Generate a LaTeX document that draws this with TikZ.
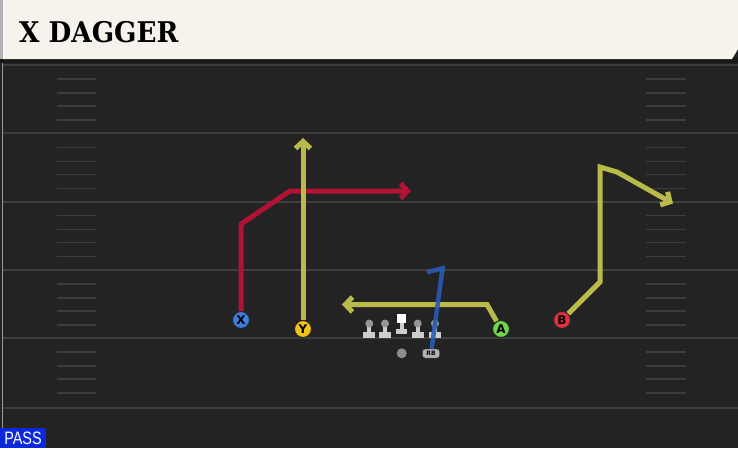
\documentclass[tikz,border=0pt]{standalone}
\usepackage{fontspec}
\setmainfont{DejaVu Sans}
\newfontfamily\titlefont{DejaVu Serif}
\newfontfamily\tagfont{Liberation Sans}
\usetikzlibrary{arrows.meta}

\definecolor{fieldbg}{RGB}{35,35,35}
\definecolor{headerbg}{RGB}{245,243,236}
\definecolor{yardline}{RGB}{62,62,62}
\definecolor{hashline}{RGB}{60,60,60}
\definecolor{redroute}{RGB}{178,18,52}
\definecolor{yellowroute}{RGB}{186,186,74}
\definecolor{blueroute}{RGB}{40,90,180}
\definecolor{xblue}{RGB}{59,127,224}
\definecolor{yyellow}{RGB}{242,194,27}
\definecolor{agreen}{RGB}{111,214,74}
\definecolor{bred}{RGB}{224,48,60}
\definecolor{olbody}{RGB}{205,205,205}
\definecolor{olhead}{RGB}{150,150,150}
\definecolor{passblue}{RGB}{12,40,220}

\tikzset{
  player/.style={circle, draw=black!85, line width=1pt, minimum size=17pt, inner sep=0pt,
    font=\bfseries\fontsize{12}{12}\selectfont},
  route/.style={line width=5pt, -{Straight Barb[length=7pt,width=15pt]}},
  hash/.style={hashline, line width=1.5pt},
}

\begin{document}
\begin{tikzpicture}[x=1pt,y=-1pt]
\useasboundingbox (0,0) rectangle (738,448);
\fill[fieldbg] (0,0) rectangle (738,448);

% header
\fill[black!90] (0,57) rectangle (738,63);
\fill[black!30] (0,0) rectangle (3,59);
\fill[headerbg] (3,0) -- (738,0) -- (738,49) -- (732,59) -- (3,59) -- cycle;
\node[anchor=west, inner sep=0pt] (title) at (19,32)
  {\scalebox{0.92}[1]{\titlefont\bfseries\fontsize{28.5}{29}\selectfont X DAGGER}};

% field lines
\draw[black!40, line width=1pt] (2,63) -- (2,448);
\foreach \yl in {65,133.3,201.6,269.9,338.2}{
  \draw[yardline, line width=2pt] (3,\yl) -- (738,\yl);
  \foreach \dy in {14,28,41,55}{
    \draw[hash] (57,\yl+\dy) -- (96,\yl+\dy);
    \draw[hash] (646,\yl+\dy) -- (686,\yl+\dy);
  }
}
\draw[yardline, line width=2pt] (3,408) -- (738,408);

% line
\foreach \lx in {369.3,385,417.7,435}{
  \fill[olbody] (\lx-2,323) rectangle (\lx+2,333);
  \fill[olbody] (\lx-6,332) rectangle (\lx+6,338);
  \fill[olhead] (\lx,323.5) circle [radius=4pt];
}
\fill[olbody] (399.7,322) rectangle (403.7,331);
\fill[olbody] (396,329) rectangle (407.4,333.5);
\fill[white] (397,314) rectangle (406.4,322.7);
\node[circle, fill=black!45, minimum size=10pt, inner sep=0pt] (QB) at (401.7,353.3) {};

% players
\node[player, fill=xblue] (X) at (241,320) {X};
\node[player, fill=yyellow] (Y) at (303,329) {Y};
\node[player, fill=agreen] (A) at (501,329) {A};
\node[player, fill=bred] (B) at (562,320) {B};
\node[draw=black!80, fill=black!30, rounded corners=2.5pt, minimum width=17pt, minimum height=9pt,
  inner sep=0pt, font=\bfseries\fontsize{6}{6}\selectfont] (RB) at (431,353.5) {RB};

% route points
\coordinate (x1) at (241,224);
\coordinate (x2) at (290,191);
\coordinate (x3) at (411,191);
\coordinate (y1) at (303,138);
\coordinate (a1) at (487,304.5);
\coordinate (a2) at (342,304.5);
\coordinate (b1) at (600,282);
\coordinate (b2) at (600,167);
\coordinate (b3) at (617,172);
\coordinate (b4) at (673,203.5);
\coordinate (r1) at (443,265);

% routes
\draw[route, redroute] (X) -- (x1) -- (x2) -- (x3);
\draw[route, yellowroute] (Y) -- (y1);
\draw[route, yellowroute] (A) -- (a1) -- (a2);
\draw[route, yellowroute] (B) -- (b1) -- (b2) -- (b3) -- (b4);
\draw[line width=4.5pt, blueroute, opacity=0.9, -{Straight Barb[harpoon,length=6pt,width=30pt]}] (RB) -- (r1);

% tag
\fill[passblue] (0,428) rectangle (46,448);
\node[white, inner sep=0pt] (tag) at (23,438.5)
  {\scalebox{0.8}[1]{\tagfont\fontsize{18}{18}\selectfont PASS}};
\end{tikzpicture}
\end{document}
